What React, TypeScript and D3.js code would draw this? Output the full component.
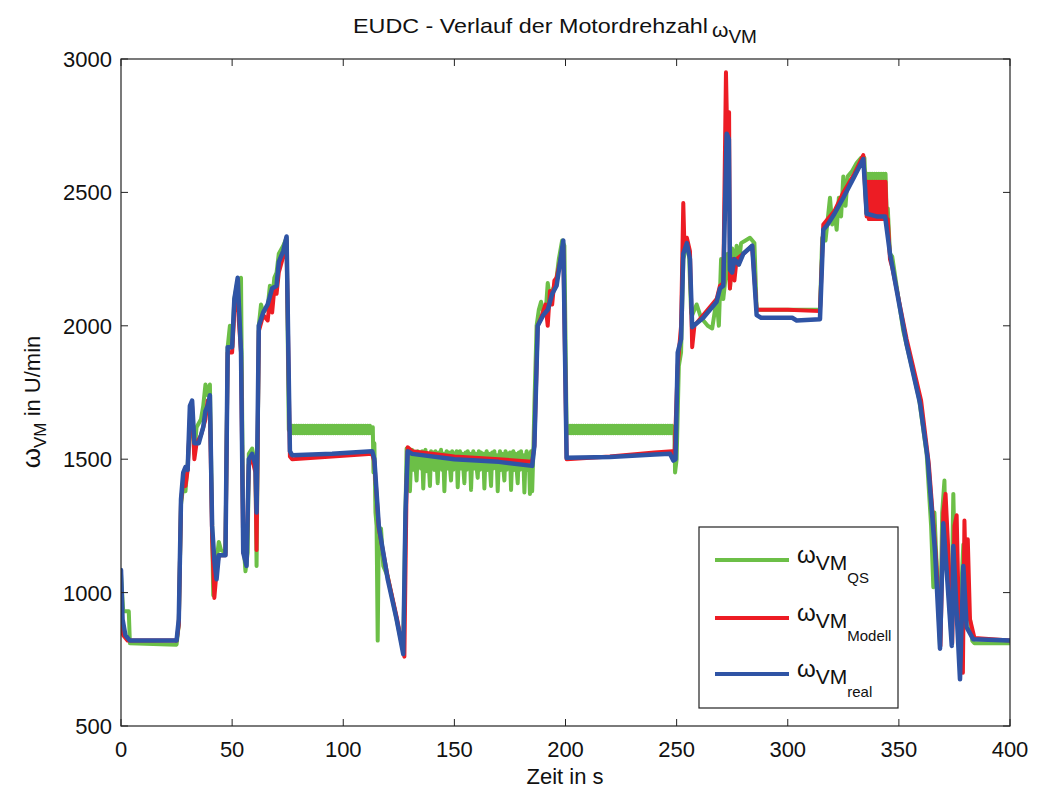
import React from "react";
import * as d3 from "d3";

type P = [number, number];

const X_TICKS = [0, 50, 100, 150, 200, 250, 300, 350, 400];
const Y_TICKS = [500, 1000, 1500, 2000, 2500, 3000];

// ---- real (blue) ----
const realSeries: P[] = [
  [0, 1085], [0.7, 900], [2, 840], [4, 820], [25, 820], [26, 900], [27, 1350], [28, 1450], [29, 1470], [30, 1460],
  [31, 1700], [32, 1720], [33, 1560], [35, 1560], [37, 1620], [38, 1680], [39, 1700], [40, 1740], [41, 1250], [42, 1120],
  [43, 1050], [44, 1140], [47, 1140], [48, 1920], [50, 1920], [51, 2100], [52.5, 2180], [54, 1900], [55, 1150], [56.5, 1100],
  [57.5, 1500], [59, 1520], [60.5, 1480], [61, 1300], [62, 2000], [64, 2050], [66, 2080], [68, 2140], [70, 2150], [71, 2240],
  [73, 2280], [74.5, 2335], [76, 1530], [77, 1515], [95, 1520], [113, 1530], [114, 1500], [116, 1250], [120, 1050], [124, 900],
  [127, 770], [128, 1300], [129, 1530], [131, 1520], [150, 1500], [170, 1490], [185, 1475], [186, 1550], [187.5, 2000], [190, 2040],
  [192, 2060], [194, 2120], [196, 2150], [199, 2320], [200.5, 1505], [220, 1508], [240, 1518], [247, 1520], [248.5, 1495], [249.5, 1500],
  [250.5, 1900], [252, 1950], [253, 2270], [254.6, 2310], [256, 2250], [257, 1995], [262, 2030], [268, 2090], [269.5, 2140], [271, 2150],
  [272.5, 2720], [273.5, 2700], [274, 2210], [275, 2200], [276, 2250], [278, 2230], [280, 2270], [284, 2300], [286, 2040], [288, 2030],
  [302, 2030], [304, 2020], [314.5, 2025], [316, 2360], [318, 2380], [321, 2420], [325, 2480], [330, 2560], [334, 2625], [335.5, 2420],
  [340, 2410], [343.8, 2410], [346, 2270], [353.5, 1930], [359.5, 1710], [363, 1500], [366.3, 1150], [368.5, 790], [370, 1260], [371.2, 1120],
  [373.8, 800], [374.5, 1175], [377.5, 675], [379, 1100], [380.5, 870], [383.5, 825], [400, 820],
];

// ---- Modell (red) ----
const modellA: P[] = [
  [0, 880], [1, 840], [3, 820], [25, 820], [26, 880], [27, 1340], [28, 1420], [29, 1400], [30, 1460], [31, 1650],
  [32, 1700], [33, 1500], [34, 1560], [36, 1590], [38, 1650], [39, 1720], [40, 1700], [41, 1200], [42, 980], [43, 1080],
  [44, 1140], [47, 1140], [48, 1900], [50, 1900], [51, 2050], [52.5, 2160], [53, 2020], [54, 1900], [55, 1150], [56.5, 1130],
  [57.5, 1480], [59, 1500], [60.5, 1450], [61, 1160], [62, 1980], [64, 2040], [66, 2020], [67, 2100], [68, 2050], [69, 2140],
  [70, 2120], [71, 2200], [73, 2260], [74.5, 2320], [76, 1510], [77, 1500], [95, 1510], [113, 1520], [114, 1490], [116, 1240],
  [120, 1060], [124, 910], [127.5, 760], [128.5, 1400], [129, 1545], [131, 1530], [150, 1510], [170, 1500], [185, 1490], [186, 1550],
  [187.5, 2000], [189, 2030], [191, 2080], [192, 2000], [193, 2130], [194, 2080], [195, 2170], [196, 2180], [199, 2300], [200.5, 1500],
  [220, 1510], [240, 1525], [248, 1530], [249, 1500], [250.5, 1850], [252, 2000], [253, 2460], [253.5, 2300], [254.6, 2330], [256, 2280],
  [257, 1920], [258, 2000], [262, 2040], [268, 2100], [269.5, 2150], [271, 2160], [272.2, 2950], [272.8, 2700], [273.6, 2800], [274, 2140],
  [275, 2250], [276, 2170], [277, 2250], [280, 2270], [284, 2300], [286, 2060], [300, 2060], [314.5, 2055], [316, 2380], [318, 2400],
  [321, 2430], [325, 2500], [330, 2570], [334, 2640], [335.5, 2410],
];
const modellOscStart = 336;
const modellOscStep = 0.5;
const modellOsc = [2540, 2400, 2540, 2400, 2540, 2400, 2540, 2400, 2540, 2400, 2540, 2400, 2540, 2400, 2540, 2400, 2540, 2400, 2400];
const modellB: P[] = [
  [346, 2250], [347, 2220], [353.5, 1950], [360, 1720], [363.5, 1480], [366.8, 1120], [368.7, 800], [370, 1300], [371, 1370], [372, 1200],
  [373.5, 900], [374, 810], [375, 1250], [376, 1290], [377, 900], [378, 800], [378.8, 700], [379.5, 1270], [380.5, 900], [381, 1200],
  [382, 900], [384, 830], [400, 820],
];

// ---- QS (green) ----
const qsA: P[] = [
  [0, 1070], [1, 930], [3.5, 930], [4, 810], [25, 805], [26, 880], [27, 1330], [28, 1400], [29, 1380], [30, 1480],
  [31, 1620], [32, 1650], [33, 1520], [34, 1620], [36, 1650], [37, 1700], [38, 1780], [39, 1740], [40, 1780], [41, 1250],
  [41.5, 990], [42, 1100], [43, 1120], [44, 1190], [45, 1160], [47, 1150], [48, 1920], [49, 2000], [50, 1920], [51, 2100],
  [52.5, 2170], [53, 2130], [54, 2180], [55, 1200], [56, 1080], [57, 1150], [57.5, 1520], [59, 1540], [60.5, 1480], [61, 1100],
  [62, 2000], [63, 2080], [64, 2050], [66, 2070], [67, 2150], [68, 2100], [69, 2180], [70, 2200], [71, 2270], [73, 2300],
  [74.5, 2330], [75.5, 1610],
];
const qsBand1Start = 76;
const qsBand1 = [
  1625, 1597, 1625, 1597, 1625, 1597, 1625, 1597, 1625, 1597, 1625, 1597, 1625, 1597, 1625, 1597, 1625, 1597, 1625, 1597,
  1625, 1597, 1625, 1597, 1625, 1597, 1625, 1597, 1625, 1597, 1625, 1597, 1625, 1597, 1625, 1597, 1625, 1597, 1625, 1597,
  1625, 1597, 1625, 1597, 1625, 1597, 1625, 1597, 1625, 1597, 1625, 1597, 1625, 1597, 1625, 1597, 1625, 1597, 1625, 1597,
  1625, 1597, 1625, 1597, 1625, 1597, 1625, 1597, 1625, 1597, 1625, 1597, 1625, 1597, 1600,
];
const qsB: P[] = [
  [113.3, 1620], [113.6, 1450], [114, 1560], [114.5, 1300], [115, 1250], [115.5, 820], [116, 1230], [117, 1240], [118, 1100], [120, 1060],
  [124, 900], [127, 780], [128, 1300], [128.5, 1540],
];
const qsNoiseStart = 129;
const qsNoise = [
  1530, 1470, 1380, 1500, 1535, 1460, 1525, 1480, 1420, 1530, 1470, 1520, 1465, 1530, 1390, 1510, 1535, 1455, 1520, 1480,
  1400, 1530, 1470, 1525, 1460, 1530, 1490, 1410, 1525, 1470, 1535, 1460, 1520, 1380, 1510, 1530, 1465, 1525, 1470, 1420,
  1530, 1460, 1520, 1475, 1530, 1395, 1505, 1530, 1465, 1520, 1470, 1410, 1525, 1460, 1530, 1475, 1520, 1385, 1500, 1530,
  1465, 1520, 1470, 1430, 1530, 1460, 1525, 1470, 1520, 1390, 1510, 1530, 1460, 1520, 1470, 1400, 1525, 1465, 1530, 1470,
  1515, 1380, 1500, 1530, 1460, 1520, 1470, 1420, 1530, 1460, 1520, 1470, 1525, 1385, 1505, 1530, 1460, 1520, 1465, 1410,
  1525, 1460, 1530, 1470, 1515, 1375, 1500, 1530, 1460, 1520, 1370, 1530, 1380,
];
const qsC: P[] = [
  [185.5, 1520], [186, 1700], [187, 2000], [188, 2060], [189, 2090], [190, 2050], [191, 2040], [192, 2160], [193, 2100], [194, 2130],
  [195, 2150], [196, 2180], [197, 2250], [198.5, 2320], [199.5, 2300], [200.5, 1610],
];
const qsBand2Start = 201;
const qsBand2 = [
  1625, 1597, 1625, 1597, 1625, 1597, 1625, 1597, 1625, 1597, 1625, 1597, 1625, 1597, 1625, 1597, 1625, 1597, 1625, 1597,
  1625, 1597, 1625, 1597, 1625, 1597, 1625, 1597, 1625, 1597, 1625, 1597, 1625, 1597, 1625, 1597, 1625, 1597, 1625, 1597,
  1625, 1597, 1625, 1597, 1625, 1597, 1625, 1597, 1625, 1597, 1625, 1597, 1625, 1597, 1625, 1597, 1625, 1597, 1625, 1597,
  1625, 1597, 1625, 1597, 1625, 1597, 1625, 1597, 1625, 1597, 1625, 1597, 1625, 1597, 1625, 1597, 1625, 1597, 1625, 1597,
  1625, 1597, 1625, 1597, 1625, 1597, 1625, 1597, 1625, 1597, 1625, 1597, 1625, 1597, 1625, 1610,
];
const qsD: P[] = [
  [249, 1600], [249.3, 1450], [250, 1500], [251, 1850], [252, 1900], [253, 2250], [254.6, 2300], [255.5, 2290], [256.5, 2050], [257, 2040],
  [258, 2060], [259, 2080], [261, 2030], [264, 2000], [266, 1990], [268, 2100], [269, 2000], [270, 2250], [271, 2100], [272, 2180],
  [273, 2270], [274, 2140], [275, 2290], [276, 2200], [277, 2300], [278, 2230], [279, 2310], [281, 2320], [283, 2330], [285, 2310],
  [286, 2060], [314.5, 2060], [315.5, 2330], [317, 2320], [319, 2480], [320, 2380], [321, 2430], [322, 2360], [323, 2480], [324, 2410],
  [325, 2560], [326, 2450], [327, 2560], [329, 2580], [331, 2610], [333, 2630], [334.5, 2630], [335.5, 2420],
];
const qsOscStart = 336;
const qsOscStep = 0.5;
const qsOsc = [2570, 2420, 2570, 2420, 2570, 2420, 2570, 2420, 2570, 2420, 2570, 2420, 2570, 2420, 2570, 2420, 2570, 2420];
const qsE: P[] = [
  [345, 2440], [346, 2270], [347, 2260], [352, 1980], [356, 1840], [359, 1730], [362.5, 1520], [364.5, 1250], [365.5, 1020], [366, 1300],
  [367, 1100], [368.5, 800], [369.5, 1300], [370.5, 1420], [371, 1200], [372, 1050], [373.5, 850], [374.5, 1370], [375.5, 1000], [377, 950],
  [378, 1000], [379, 1180], [380, 950], [381, 930], [382, 900], [383, 820], [384, 810], [400, 810],
];

const expand = (start: number, step: number, vals: number[]): P[] => vals.map((v, i) => [start + i * step, v] as P);

const qsSeries: P[] = [
  ...qsA, ...expand(qsBand1Start, 0.5, qsBand1), ...qsB, ...expand(qsNoiseStart, 0.5, qsNoise), ...qsC,
  ...expand(qsBand2Start, 0.5, qsBand2), ...qsD, ...expand(qsOscStart, qsOscStep, qsOsc), ...qsE,
];
const modellSeries: P[] = [...modellA, ...expand(modellOscStart, modellOscStep, modellOsc), ...modellB];

const COLORS = { qs: "#6cbf47", modell: "#ed1c24", real: "#2f54a5" };

const L = 121, R = 1010, T = 59, B = 726;
const FONT = "'Liberation Sans', Arial, Helvetica, sans-serif";

export default function App() {
  const x = d3.scaleLinear().domain([0, 400]).range([L, R]);
  const y = d3.scaleLinear().domain([500, 3000]).range([B, T]);
  const line = d3.line<P>().x((d) => x(d[0])).y((d) => y(d[1]));
  const tick = 7;

  const legendItems = [
    { key: "qs", color: COLORS.qs, sub: "QS", ly: 560 },
    { key: "modell", color: COLORS.modell, sub: "Modell", ly: 618 },
    { key: "real", color: COLORS.real, sub: "real", ly: 674 },
  ];

  return (
    <svg width={1038} height={791} style={{ position: "absolute", left: 0, top: 0, background: "#fff" }} fontFamily={FONT}>
      <rect x={0} y={0} width={1038} height={791} fill="#fff" />
      <defs>
        <clipPath id="plot">
          <rect x={L} y={T} width={R - L} height={B - T} />
        </clipPath>
      </defs>
      <g clipPath="url(#plot)" fill="none" strokeLinejoin="round" strokeLinecap="round">
        <path d={line(qsSeries) || ""} stroke={COLORS.qs} strokeWidth={4} />
        <path d={line(modellSeries) || ""} stroke={COLORS.modell} strokeWidth={4} />
        <path d={line(realSeries) || ""} stroke={COLORS.real} strokeWidth={4.5} />
      </g>
      {/* axes box */}
      <rect x={L} y={T} width={R - L} height={B - T} fill="none" stroke="#222" strokeWidth={1.2} />
      {X_TICKS.map((t) => (
        <g key={"xt" + t}>
          <line x1={x(t)} x2={x(t)} y1={B} y2={B - tick} stroke="#222" />
          <line x1={x(t)} x2={x(t)} y1={T} y2={T + tick} stroke="#222" />
          <text x={x(t)} y={757} fontSize={22} textAnchor="middle" fill="#111">{t}</text>
        </g>
      ))}
      {Y_TICKS.map((t) => (
        <g key={"yt" + t}>
          <line x1={L} x2={L + tick} y1={y(t)} y2={y(t)} stroke="#222" />
          <line x1={R} x2={R - tick} y1={y(t)} y2={y(t)} stroke="#222" />
          <text x={112} y={y(t) + 8} fontSize={22} textAnchor="end" fill="#111">{t}</text>
        </g>
      ))}
      {/* x label */}
      <text x={565} y={784} fontSize={22} textAnchor="middle" fill="#111">Zeit in s</text>
      {/* y label */}
      <g transform="translate(40,402) rotate(-90)">
        <text x={0} y={0} fontSize={22} textAnchor="middle" fill="#111">
          <tspan fontSize={26}>ω</tspan>
          <tspan dy={6} fontSize={17}>VM</tspan>
          <tspan dy={-6}> in U/min</tspan>
        </text>
      </g>
      {/* title */}
      <text x={353} y={33} fontSize={21} fill="#111" textLength={355} lengthAdjust="spacingAndGlyphs">EUDC - Verlauf der Motordrehzahl</text>
      <text x={712} y={37} fontSize={21} fill="#111">
        ω<tspan dy={6} fontSize={19}>VM</tspan>
      </text>
      {/* legend */}
      <rect x={699} y={527} width={199} height={181} fill="#fff" stroke="#222" strokeWidth={1.2} />
      {legendItems.map((it) => (
        <g key={it.key}>
          <line x1={715} x2={789} y1={it.ly} y2={it.ly} stroke={it.color} strokeWidth={4} />
          <text x={797} y={it.ly + 3} fontSize={24} fill="#111">
            ω<tspan dy={7} fontSize={21}>VM</tspan>
            <tspan dy={13} fontSize={15}>{it.sub}</tspan>
          </text>
        </g>
      ))}
    </svg>
  );
}
